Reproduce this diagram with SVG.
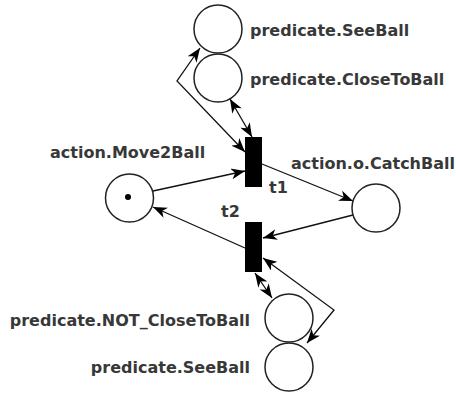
<svg xmlns="http://www.w3.org/2000/svg" width="456" height="394" viewBox="0 0 456 394">
  <style>
    .place { fill: #ffffff; stroke: #222222; stroke-width: 1.5; }
    .trans { fill: #000000; }
    .arc { fill: none; stroke: #111111; stroke-width: 1.3; }
    .lbl { font-family: "DejaVu Sans", "Liberation Sans", sans-serif; font-weight: bold; font-size: 16px; fill: #383838; }
  </style>
  <defs>
    <marker id="head" viewBox="0 0 14 11" refX="14" refY="5.5" markerWidth="14" markerHeight="11" markerUnits="userSpaceOnUse" orient="auto-start-reverse">
      <path d="M0,0 L14,5.5 L0,11 L4,5.5 z" fill="#000000"/>
    </marker>
  </defs>

  <rect width="456" height="394" fill="#ffffff"/>

  <!-- arcs -->
  <g id="connectors">
    <line class="arc" x1="153" y1="191" x2="245" y2="171" marker-end="url(#head)"/>
    <line class="arc" x1="262" y1="164" x2="353" y2="201" marker-end="url(#head)"/>
    <line class="arc" x1="353" y1="215" x2="263" y2="238" marker-end="url(#head)"/>
    <line class="arc" x1="245" y1="248" x2="153" y2="207" marker-end="url(#head)"/>
    <line class="arc" x1="230" y1="99" x2="252" y2="137" marker-start="url(#head)" marker-end="url(#head)"/>
    <polyline class="arc" points="200,48 177,81 245,152" marker-start="url(#head)" marker-end="url(#head)"/>
    <line class="arc" x1="255" y1="273" x2="272" y2="298" marker-start="url(#head)" marker-end="url(#head)"/>
    <polyline class="arc" points="263,258 334,310 307,343" marker-start="url(#head)" marker-end="url(#head)"/>
  </g>

  <!-- places -->
  <g id="p-seeball-top">
    <circle class="place" cx="218" cy="29" r="24"/>
    <text class="lbl" x="250" y="36">predicate.SeeBall</text>
  </g>
  <g id="p-closetoball">
    <circle class="place" cx="218" cy="78" r="24"/>
    <text class="lbl" x="250" y="85">predicate.CloseToBall</text>
  </g>
  <g id="p-move2ball">
    <circle class="place" cx="129.5" cy="198" r="24"/>
    <circle cx="128" cy="197" r="3" fill="#000000"/>
    <text class="lbl" x="50" y="158">action.Move2Ball</text>
  </g>
  <g id="p-catchball">
    <circle class="place" cx="376" cy="208" r="24"/>
    <text class="lbl" x="291" y="169">action.o.CatchBall</text>
  </g>
  <g id="p-not-closetoball">
    <circle class="place" cx="289" cy="318" r="24"/>
    <text class="lbl" x="250" y="326" text-anchor="end">predicate.NOT_CloseToBall</text>
  </g>
  <g id="p-seeball-bottom">
    <circle class="place" cx="289" cy="367" r="24"/>
    <text class="lbl" x="250" y="373" text-anchor="end">predicate.SeeBall</text>
  </g>

  <!-- transitions -->
  <g id="t1">
    <rect class="trans" x="245" y="137" width="17" height="50"/>
    <text class="lbl" x="269" y="193">t1</text>
  </g>
  <g id="t2">
    <rect class="trans" x="245" y="222" width="17" height="50"/>
    <text class="lbl" x="221" y="217">t2</text>
  </g>
</svg>
